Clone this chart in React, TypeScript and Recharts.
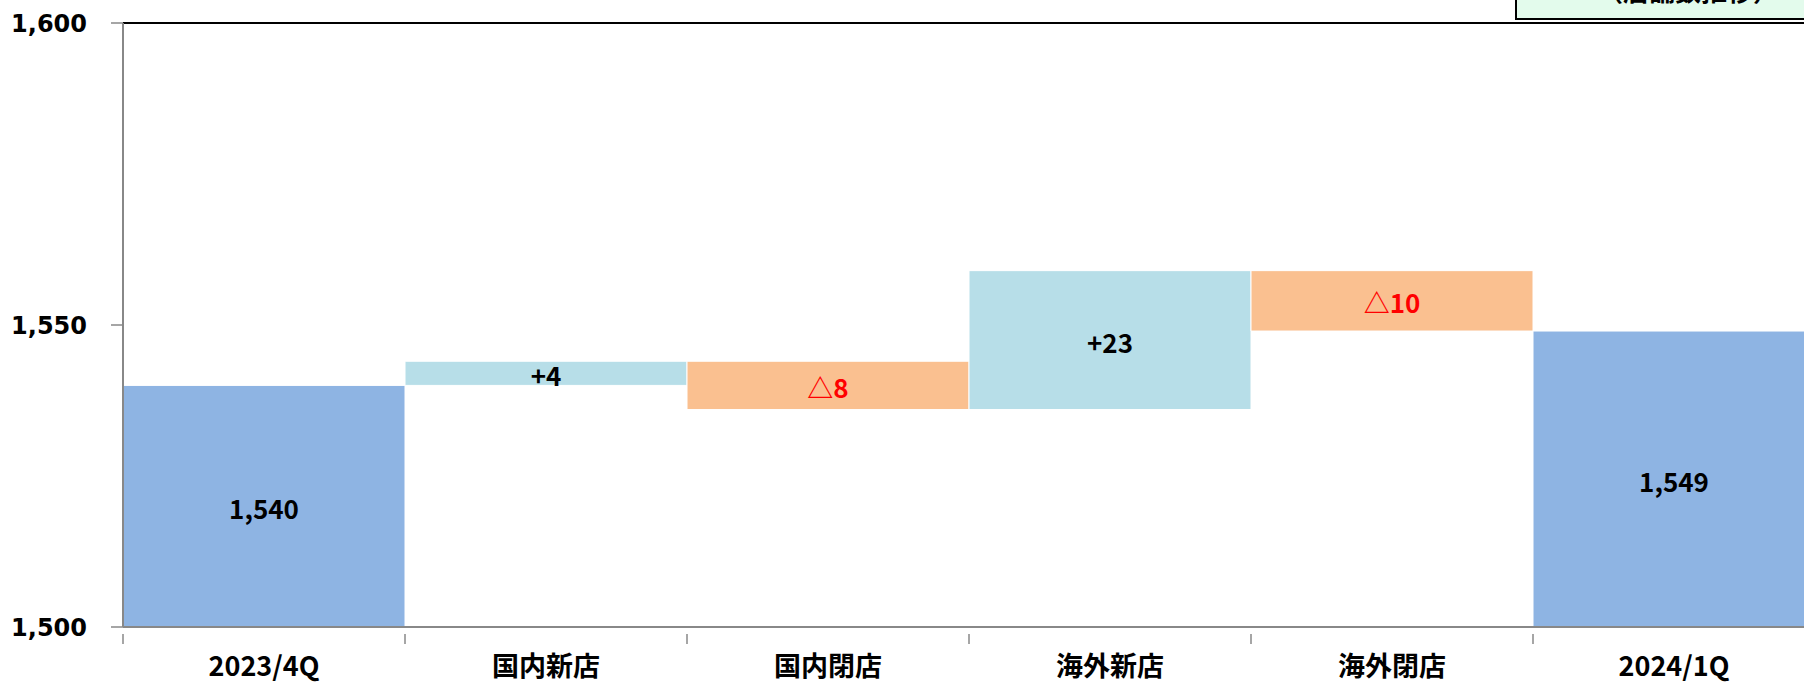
import { BarChart, Bar, XAxis, YAxis, Cell, LabelList, ReferenceLine } from 'recharts'

const categories = ['2023/4Q', '国内新店', '国内閉店', '海外新店', '海外閉店', '2024/1Q']
// start total, then changes, then end total
const steps = [1540, 4, -8, 23, -10, 1549]
const kinds = ['total', 'up', 'down', 'up', 'down', 'total']
const yTicks = [1500, 1550, 1600]

const colors: Record<string, string> = {
  total: '#8EB4E3',
  up: '#B7DEE8',
  down: '#FAC090',
}

// build waterfall ranges from the steps
let running = 0
const data = categories.map((name, i) => {
  const v = steps[i]
  let range: number[]
  let label: string
  if (kinds[i] === 'total') {
    range = [0, v]
    running = v
    label = v.toLocaleString('en-US')
  } else {
    const next = running + v
    range = [Math.min(running, next), Math.max(running, next)]
    running = next
    label = v > 0 ? `+${v}` : `△${Math.abs(v)}`
  }
  return { name, range, label, kind: kinds[i] }
})

const CHART_W = 1830
const CHART_H = 683
const LEFT = 123
const RIGHT = 15
const X_AXIS_H = 56
const PLOT_BOTTOM = CHART_H - X_AXIS_H
const BAND = (CHART_W - LEFT - RIGHT) / categories.length

const CategoryTick = (props: any) => {
  const { x, y, payload } = props
  const edge = x - BAND / 2
  return (
    <g>
      <line x1={edge} x2={edge} y1={y - 1} y2={y + 9} stroke="#888" strokeWidth={1.5} />
      {payload.index === categories.length - 1 && (
        <line x1={x + BAND / 2} x2={x + BAND / 2} y1={y - 1} y2={y + 9} stroke="#888" strokeWidth={1.5} />
      )}
      <text
        x={x}
        y={y + 29}
        textAnchor="middle"
        dominantBaseline="central"
        fontFamily="'Noto Sans CJK JP'"
        fontWeight="bold"
        fontSize={27}
        fill="#000"
      >
        {payload.value}
      </text>
    </g>
  )
}

const BarLabel = (props: any) => {
  const { x, y, width, height, index } = props
  const d = data[index]
  // totals run past the axis floor, so centre them on the visible part
  const bottom = Math.min(y + height, PLOT_BOTTOM)
  const cy = (y + bottom) / 2
  return (
    <text
      x={x + width / 2}
      y={cy + 1}
      textAnchor="middle"
      dominantBaseline="central"
      fontFamily="'Noto Sans CJK JP'"
      fontWeight="bold"
      fontSize={26}
      fill={d.kind === 'down' ? '#FF0000' : '#000'}
    >
      {d.label}
    </text>
  )
}

export default function App() {
  return (
    <div
      style={{
        position: 'absolute',
        left: 0,
        top: 0,
        width: 1804,
        height: 683,
        overflow: 'hidden',
        background: '#fff',
      }}
    >
      <BarChart
        width={CHART_W}
        height={CHART_H}
        data={data}
        barCategoryGap={0}
        margin={{ top: 23, right: RIGHT, left: 0, bottom: 0 }}
      >
        <XAxis
          dataKey="name"
          height={X_AXIS_H}
          interval={0}
          tickLine={false}
          axisLine={{ stroke: '#888', strokeWidth: 2 }}
          tick={<CategoryTick />}
        />
        <YAxis
          width={LEFT}
          domain={[1500, 1600]}
          ticks={yTicks}
          allowDataOverflow
          tickSize={12}
          tickMargin={24}
          tickLine={{ stroke: '#888', strokeWidth: 1.5 }}
          axisLine={{ stroke: '#888', strokeWidth: 2 }}
          tickFormatter={(v: number) => v.toLocaleString('en-US')}
          tick={{ fill: '#000', fontFamily: "'DejaVu Sans'", fontWeight: 'bold', fontSize: 24 }}
        />
        <ReferenceLine y={1600} stroke="#000" strokeWidth={2} ifOverflow="extendDomain" />
        <Bar dataKey="range" isAnimationActive={false} stroke="#fff" strokeWidth={1}>
          {data.map((d, i) => (
            <Cell key={`c-${i}`} fill={colors[d.kind]} />
          ))}
          <LabelList dataKey="label" content={<BarLabel />} />
        </Bar>
      </BarChart>
      <div
        style={{
          position: 'absolute',
          left: 1515,
          top: -40,
          width: 320,
          height: 60,
          background: '#E3FBEC',
          border: '2px solid #000',
          fontFamily: "'Noto Sans CJK JP'",
          fontWeight: 'bold',
          fontSize: 26,
          lineHeight: '26px',
          paddingTop: 15,
          paddingLeft: 80,
          boxSizing: 'border-box',
          color: '#000',
          whiteSpace: 'nowrap',
        }}
      >
        （店舗数推移）
      </div>
    </div>
  )
}
